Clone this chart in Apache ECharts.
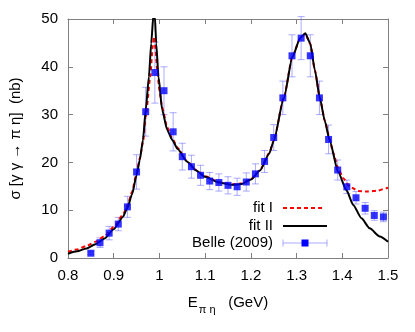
<!DOCTYPE html>
<html><head><meta charset="utf-8">
<script src="https://cdn.jsdelivr.net/npm/echarts@6/dist/echarts.min.js"></script>
<style>html,body{margin:0;padding:0;background:#fff}#c{width:415px;height:332px}</style>
</head><body><div id="c"></div>
<script>
// Belle (2009) data
const belleX = [0.85,0.87,0.89,0.91,0.93,0.95,0.97,0.99,1.01,1.03,1.05,1.07,1.09,1.11,1.13,1.15,1.17,1.19,1.21,1.23,1.25,1.27,1.29,1.31,1.33,1.35,1.37,1.39,1.41,1.43,1.45,1.47,1.49];
const belleY = [1.0,3.2,5.2,7.1,10.7,18.0,30.6,38.8,35.0,26.4,21.2,19.1,17.3,16.1,15.8,15.2,14.9,15.9,17.6,20.2,25.2,33.5,42.3,46.0,42.3,33.5,24.8,18.4,14.9,12.6,10.4,8.9,8.6];
const belleErr = [0.3,1.0,1.4,1.4,2.2,3.6,5.1,6.4,5.0,4.0,2.8,2.4,2.1,1.8,1.8,1.8,1.8,1.9,2.1,2.3,2.7,3.5,4.4,4.5,4.4,3.5,3.0,2.1,1.4,1.3,1.2,1.0,1.0];
// fit I (red dashed)
const fit1X = [0.80,0.82,0.84,0.86,0.88,0.90,0.92,0.93,0.94,0.95,0.957,0.964,0.970,0.980,0.985,0.988,0.991,0.996,1.000,1.006,1.017,1.028,1.04,1.06,1.08,1.10,1.13,1.16,1.18,1.20,1.22,1.24,1.25,1.272,1.291,1.308,1.319,1.330,1.340,1.351,1.362,1.372,1.380,1.391,1.402,1.417,1.435,1.456,1.478,1.496,1.50];
const fit1Y = [1.3,1.8,2.5,3.4,4.6,6.5,9.0,11.0,13.8,17.8,20.8,24.2,29.5,37.9,44.0,46.3,44.0,38.5,35.0,31.5,27.3,25.0,23.0,20.3,18.4,17.1,15.9,15.4,15.6,16.5,18.4,21.9,24.6,33.5,42.2,46.0,46.9,44.8,39.3,33.5,28.7,25.0,22.0,18.8,16.7,14.9,14.0,13.9,14.1,14.6,14.7];
// fit II (black solid)
const fit2X = [0.80,0.82,0.84,0.86,0.88,0.90,0.92,0.93,0.94,0.95,0.957,0.964,0.970,0.977,0.982,0.987,0.9885,0.990,0.993,0.998,1.006,1.017,1.028,1.04,1.06,1.08,1.10,1.13,1.16,1.18,1.20,1.22,1.24,1.25,1.272,1.291,1.308,1.319,1.330,1.340,1.351,1.362,1.372,1.391,1.409,1.424,1.442,1.460,1.482,1.50];
const fit2Y = [0.9,1.4,2.0,2.9,4.1,6.0,8.6,10.5,13.3,17.3,20.5,24.7,31.0,37.9,44.9,51.0,53.0,50.5,44.9,37.9,31.0,26.8,24.7,22.8,20.2,18.3,17.0,15.8,15.3,15.5,16.4,18.3,21.8,24.5,33.4,42.1,46.0,47.0,44.9,39.3,33.4,28.6,24.7,18.0,14.2,11.1,8.3,6.2,4.5,3.4];
const xTicks = {min:0.8, max:1.5, interval:0.1};
const yTicks = {min:0, max:50, interval:10};
const legendNames = ['fit I','fit II','Belle (2009)'];

const FONT = 'Liberation Sans, Arial, sans-serif';
const axisCol = '#808080';
const errCol = 'rgba(90,90,255,0.5)';
const chart = echarts.init(document.getElementById('c'));
const pair = (xs, ys) => xs.map((x,i)=>[x, ys[i]]);
const errData = belleX.map((x,i)=>[x, belleY[i]-belleErr[i], belleY[i]+belleErr[i]]);

function mkX(show){return {type:'value', min:xTicks.min, max:xTicks.max, interval:xTicks.interval,
  position: show?'bottom':'top',
  axisLine:{show:true, onZero:false, lineStyle:{color:axisCol,width:1}},
  axisTick:{show:true, inside:true, length:5, lineStyle:{color:axisCol}},
  splitLine:{show:false},
  axisLabel:{show:show, color:'#000', fontSize:15, fontFamily:FONT, margin:10,
    formatter:v=>String(Math.round(v*10)/10)}};}
function mkY(show){return {type:'value', min:yTicks.min, max:yTicks.max, interval:yTicks.interval,
  position: show?'left':'right',
  axisLine:{show:true, onZero:false, lineStyle:{color:axisCol,width:1}},
  axisTick:{show:true, inside:true, length:5, lineStyle:{color:axisCol}},
  splitLine:{show:false},
  axisLabel:{show:show, color:'#000', fontSize:15, fontFamily:FONT, margin:10}};}

const xa = mkX(true);
xa.name = '{e|E}{s|π η}{e|   (GeV)}';
xa.nameLocation = 'middle'; xa.nameGap = 37;
xa.nameTextStyle = {rich:{e:{fontSize:15,fontFamily:FONT,color:'#000',verticalAlign:'top'},
  s:{fontSize:11,fontFamily:FONT,color:'#000',padding:[9,0,0,1],verticalAlign:'top'}}};
const ya = mkY(true);
ya.name = 'σ [γ γ → π η]  (nb)';
ya.nameLocation='middle'; ya.nameGap = 45; ya.nameRotate = 90;
ya.nameTextStyle = {fontSize:15, fontFamily:FONT, color:'#000'};

const option = {
  animation:false,
  backgroundColor:'#fff',
  grid:{left:67, right:27, top:19, bottom:74, containLabel:false},
  xAxis:[xa, mkX(false)],
  yAxis:[ya, mkY(false)],
  series:[
    {name:legendNames[2]+' err', type:'custom', xAxisIndex:0, yAxisIndex:0, data:errData, z:2,
      renderItem:(params, api)=>{
        const x=api.value(0), lo=api.coord([x, api.value(1)]), hi=api.coord([x, api.value(2)]);
        const c=3.5; const st={stroke:errCol, lineWidth:1};
        return {type:'group', children:[
          {type:'line', shape:{x1:lo[0],y1:lo[1],x2:hi[0],y2:hi[1]}, style:st},
          {type:'line', shape:{x1:lo[0]-c,y1:lo[1],x2:lo[0]+c,y2:lo[1]}, style:st},
          {type:'line', shape:{x1:hi[0]-c,y1:hi[1],x2:hi[0]+c,y2:hi[1]}, style:st}]};
      }},
    {name:legendNames[0], type:'line', data:pair(fit1X, fit1Y), smooth:0.2, smoothMonotone:'x', showSymbol:false, z:3,
      lineStyle:{color:'#ff0000', width:2, type:[4,3]}},
    {name:legendNames[1], type:'line', data:pair(fit2X, fit2Y), smooth:0.2, smoothMonotone:'x', showSymbol:false, z:4,
      lineStyle:{color:'#000', width:2}},
    {name:legendNames[2], type:'scatter', data:pair(belleX, belleY), symbol:'rect', symbolSize:7, z:5,
      itemStyle:{color:'#0000ff'}}
  ],
  graphic:[
    {type:'text', right:415-273, top:200, style:{text:legendNames[0], font:'15px '+FONT, fill:'#000'}},
    {type:'line', shape:{x1:283,y1:208,x2:325,y2:208}, style:{stroke:'#ff0000', lineWidth:2, lineDash:[4,3]}},
    {type:'text', right:415-273, top:218, style:{text:legendNames[1], font:'15px '+FONT, fill:'#000'}},
    {type:'line', shape:{x1:283,y1:226,x2:327,y2:226}, style:{stroke:'#000', lineWidth:2}},
    {type:'text', right:415-273, top:235, style:{text:legendNames[2], font:'15px '+FONT, fill:'#000'}},
    {type:'line', shape:{x1:283,y1:243,x2:327,y2:243}, style:{stroke:errCol, lineWidth:1}},
    {type:'line', shape:{x1:283,y1:239.5,x2:283,y2:246.5}, style:{stroke:errCol, lineWidth:1}},
    {type:'line', shape:{x1:327,y1:239.5,x2:327,y2:246.5}, style:{stroke:errCol, lineWidth:1}},
    {type:'rect', shape:{x:301.5,y:239.5,width:7,height:7}, style:{fill:'#0000ff'}}
  ]
};
chart.setOption(option);
</script></body></html>
